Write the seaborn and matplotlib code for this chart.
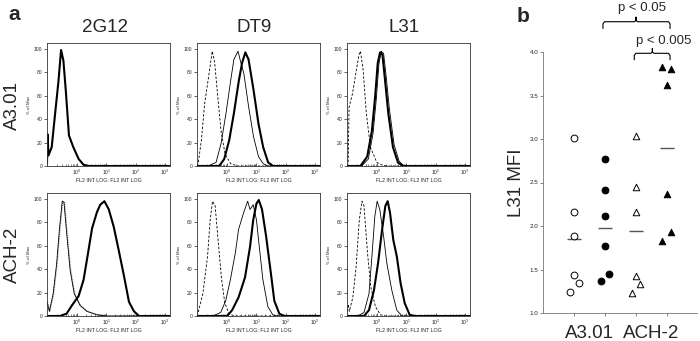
import numpy as np
import pandas as pd
import matplotlib
matplotlib.use("Agg")
import matplotlib.pyplot as plt
from matplotlib.ticker import LogLocator, FixedLocator, NullFormatter
import seaborn as sns

# ---------------- data: panel a (histograms; x = log10 intensity, y = % of max) -------------
g12_a301_thick_x = [-1.03, -1.01, -0.98, -0.87, -0.76, -0.64, -0.55, -0.47, -0.39, -0.28, -0.13, 0.05, 0.22, 0.40, 3.15]
g12_a301_thick_y = [2, 27, 9, 16, 43, 72, 99, 90, 65, 26, 16, 6, 1, 0, 0]

g12_ach2_thin_x = [-1.03, -0.95, -0.82, -0.70, -0.61, -0.51, -0.45, -0.36, -0.24, -0.10, 0.10, 0.33, 0.68, 1.02, 3.15]
g12_ach2_thin_y = [12, 4, 19, 45, 73, 98, 97, 71, 39, 19, 9, 4, 1, 0, 0]
g12_ach2_thick_x = [-1.03, -0.59, -0.36, -0.18, 0.05, 0.22, 0.36, 0.51, 0.68, 0.79, 0.93, 1.08, 1.25, 1.42, 1.60, 1.77, 1.94, 2.11, 3.15]
g12_ach2_thick_y = [0, 0, 2, 9, 17, 31, 52, 75, 89, 95, 98, 91, 76, 56, 34, 12, 4, 0, 0]

dt9_a301_iso_x = [-1.03, -0.99, -0.88, -0.77, -0.60, -0.51, -0.43, -0.32, -0.21, -0.07, 0.12, 0.35, 3.15]
dt9_a301_iso_y = [0, 2, 22, 53, 82, 98, 89, 59, 30, 10, 2, 0, 0]
dt9_a301_thin_x = [-1.03, -0.66, -0.38, -0.21, -0.04, 0.12, 0.23, 0.37, 0.46, 0.57, 0.73, 0.90, 1.07, 1.23, 1.40, 3.15]
dt9_a301_thin_y = [0, 0, 3, 19, 45, 73, 91, 98, 89, 79, 51, 25, 8, 2, 0, 0]
dt9_a301_thick_x = [-1.03, -0.27, -0.10, 0.07, 0.23, 0.40, 0.51, 0.62, 0.73, 0.90, 1.07, 1.23, 1.40, 1.57, 3.15]
dt9_a301_thick_y = [0, 0, 6, 22, 45, 73, 88, 97, 91, 65, 36, 16, 3, 0, 0]

l31_a301_iso_x = [-1.03, -0.99, -0.96, -0.84, -0.73, -0.62, -0.57, -0.48, -0.37, -0.23, -0.01, 0.20, 0.40, 3.15]
l31_a301_iso_y = [0, 2, 50, 62, 79, 95, 98, 82, 45, 16, 3, 0.5, 0, 0]
l31_a301_thin_x = [-1.03, -0.53, -0.30, -0.14, -0.03, 0.06, 0.14, 0.22, 0.31, 0.42, 0.58, 0.75, 0.92, 3.15]
l31_a301_thin_y = [0, 0, 6, 28, 57, 87, 98, 96, 76, 48, 18, 4, 0, 0]
l31_a301_thick_x = [-1.03, -0.57, -0.34, -0.18, -0.07, 0.02, 0.10, 0.18, 0.27, 0.38, 0.54, 0.71, 0.88, 3.15]
l31_a301_thick_y = [0, 0, 8, 30, 59, 88, 97, 95, 73, 45, 16, 3, 0, 0]

dt9_ach2_iso_x = [-1.03, -1.00, -0.83, -0.67, -0.58, -0.50, -0.41, -0.30, -0.19, -0.08, 0.06, 0.25, 3.15]
dt9_ach2_iso_y = [0, 2, 19, 51, 82, 98, 94, 62, 31, 11, 2, 0, 0]
dt9_ach2_thin_x = [-1.03, -0.50, -0.22, -0.05, 0.11, 0.28, 0.39, 0.56, 0.70, 0.78, 0.89, 1.00, 1.11, 1.22, 1.39, 1.56, 1.72, 3.15]
dt9_ach2_thin_y = [0, 0, 3, 13, 31, 54, 74, 88, 98, 91, 95, 82, 56, 31, 8, 1, 0, 0]
dt9_ach2_thick_x = [-1.03, 0.00, 0.17, 0.39, 0.61, 0.78, 0.89, 1.00, 1.08, 1.19, 1.33, 1.48, 1.61, 1.78, 1.95, 3.15]
dt9_ach2_thick_y = [0, 0, 5, 16, 33, 59, 82, 96, 99, 91, 68, 39, 13, 2, 0, 0]

l31_ach2_iso_x = [-1.03, -0.99, -0.95, -0.83, -0.72, -0.61, -0.52, -0.45, -0.33, -0.22, -0.06, 0.11, 0.30, 3.15]
l31_ach2_iso_y = [0, 10, 4, 16, 42, 82, 98, 94, 54, 25, 8, 1, 0, 0]
l31_ach2_thin_x = [-1.03, -0.67, -0.45, -0.28, -0.17, -0.08, 0.00, 0.09, 0.22, 0.33, 0.50, 0.67, 0.85, 3.15]
l31_ach2_thin_y = [0, 0, 3, 19, 54, 85, 98, 91, 68, 45, 22, 5, 0, 0]
l31_ach2_thick_x = [-1.03, -0.45, -0.28, -0.11, 0.03, 0.17, 0.28, 0.36, 0.44, 0.55, 0.67, 0.80, 0.94, 1.11, 1.30, 3.15]
l31_ach2_thick_y = [0, 0, 5, 22, 45, 74, 94, 98, 88, 65, 51, 28, 11, 1, 0, 0]

col_titles = ["2G12", "DT9", "L31"]
row_titles = ["A3.01", "ACH-2"]
x_tick_vals = [1, 10, 100, 1000]
y_tick_vals = [0, 20, 40, 60, 80, 100]
hist_xlabel = "FL2 INT LOG: FL2 INT LOG"
hist_ylabel = "% of Max"

# ---------------- data: panel b (L31 MFI) ----------------
mfi_a301_open = [3.01, 2.16, 1.88, 1.44, 1.34, 1.24]
mfi_a301_filled = [2.77, 2.41, 2.11, 1.77, 1.37, 1.45]
mfi_ach2_open = [3.03, 2.45, 2.16, 1.43, 1.33, 1.23]
mfi_ach2_filled = [3.83, 3.80, 3.62, 2.37, 1.93, 1.83]
group_labels = ["A3.01", "ACH-2"]
p_labels = ["p < 0.05", "p < 0.005"]
mfi_yticks = [1.0, 1.5, 2.0, 2.5, 3.0, 3.5, 4.0]

# ---------------- styling ----------------
sns.set_style("ticks")
plt.rcParams["font.family"] = ["Liberation Sans", "DejaVu Sans"]
plt.rcParams["mathtext.fontset"] = "custom"
plt.rcParams["mathtext.rm"] = "Liberation Sans"
plt.rcParams["mathtext.it"] = "Liberation Sans"

W, H = 700, 341
fig = plt.figure(figsize=(W / 100, H / 100), dpi=100)
fig.patch.set_facecolor("white")


def px_axes(l, t, r, b):
    return fig.add_axes([l / W, 1 - b / H, (r - l) / W, (b - t) / H])


styles = {
    "iso": dict(color="black", lw=0.6, linestyle=(0, (3, 2))),
    "thin": dict(color="black", lw=0.6, linestyle="-"),
    "dot": dict(color="#777777", lw=0.8, linestyle=(0, (1, 1))),
    "thick": dict(color="black", lw=1.5, linestyle="-"),
}

panels = {
    (0, 0): [("thick", g12_a301_thick_x, g12_a301_thick_y)],
    (0, 1): [("iso", dt9_a301_iso_x, dt9_a301_iso_y), ("thin", dt9_a301_thin_x, dt9_a301_thin_y),
             ("thick", dt9_a301_thick_x, dt9_a301_thick_y)],
    (0, 2): [("iso", l31_a301_iso_x, l31_a301_iso_y), ("thin", l31_a301_thin_x, l31_a301_thin_y),
             ("thick", l31_a301_thick_x, l31_a301_thick_y)],
    (1, 0): [("dot", g12_ach2_thin_x, g12_ach2_thin_y), ("thin", g12_ach2_thin_x, g12_ach2_thin_y),
             ("thick", g12_ach2_thick_x, g12_ach2_thick_y)],
    (1, 1): [("iso", dt9_ach2_iso_x, dt9_ach2_iso_y), ("thin", dt9_ach2_thin_x, dt9_ach2_thin_y),
             ("thick", dt9_ach2_thick_x, dt9_ach2_thick_y)],
    (1, 2): [("iso", l31_ach2_iso_x, l31_ach2_iso_y), ("thin", l31_ach2_thin_x, l31_ach2_thin_y),
             ("thick", l31_ach2_thick_x, l31_ach2_thick_y)],
}

col_lefts = [47, 197, 347]
row_tops = [43, 193]
AW, AH = 123, 123

for (r, c), curves in panels.items():
    l = col_lefts[c]
    t = row_tops[r]
    ax = px_axes(l, t, l + AW, t + AH)
    for style, xs, ys in curves:
        df = pd.DataFrame({"x": 10 ** np.array(xs, dtype=float), "y": ys})
        if style == "dot":
            df["x"] = df["x"] * 10 ** 0.02
        sns.lineplot(data=df, x="x", y="y", ax=ax, sort=False, estimator=None, **styles[style])
    ax.set_xscale("log")
    ax.set_xlim(10 ** -1.03, 10 ** 3.17)
    ax.set_ylim(0, 105)
    ax.xaxis.set_major_locator(FixedLocator(x_tick_vals))
    ax.xaxis.set_minor_locator(LogLocator(base=10, subs=np.arange(2, 10), numticks=20))
    ax.xaxis.set_minor_formatter(NullFormatter())
    ax.set_yticks(y_tick_vals)
    ax.tick_params(axis="x", which="major", direction="in", length=2.5, width=0.5, labelsize=3.6, pad=1.5)
    ax.tick_params(axis="x", which="minor", direction="in", length=1.5, width=0.4)
    ax.tick_params(axis="y", direction="out", length=2.5, width=0.5, labelsize=3.6, pad=1)
    ax.set_xlabel(hist_xlabel, fontsize=3.8, labelpad=0.5)
    ax.set_ylabel(hist_ylabel, fontsize=3.2, labelpad=2)
    for s in ax.spines.values():
        s.set_visible(True)
        s.set_linewidth(0.6)
        s.set_color("#333333")

# column titles and row titles
for c, title in enumerate(col_titles):
    fig.text((col_lefts[c] + AW / 2 - 4) / W, 1 - 28 / H, title, ha="center", va="center", fontsize=13.5)
for r, (title, yc) in enumerate(zip(row_titles, [106, 255])):
    fig.text(12.5 / W, 1 - yc / H, title, ha="center", va="center", rotation=90, fontsize=13.5)

fig.text(14 / W, 1 - 15 / H, "a", ha="center", va="center", fontsize=15, fontweight="bold")
fig.text(523 / W, 1 - 17 / H, "b", ha="center", va="center", fontsize=15, fontweight="bold")

# ---------------- panel b ----------------
axb = px_axes(543, 52, 697, 313)
groups = [
    (mfi_a301_open, "o", "white", [0, 0, 0, 0, 0.16, -0.14]),
    (mfi_a301_filled, "o", "black", [0, 0, 0, 0, -0.13, 0.13]),
    (mfi_ach2_open, "^", "white", [0, 0, 0, 0, 0.13, -0.13]),
    (mfi_ach2_filled, "^", "black", [-0.16, 0.13, 0, 0, 0.13, -0.16]),
]
for i, (vals, mk, face, offs) in enumerate(groups):
    xs = i + np.array(offs)
    sns.scatterplot(x=xs, y=vals, ax=axb, marker=mk, s=24 if mk == "o" else 22,
                    color=face, edgecolor="black", linewidth=0.7, zorder=3)
    m = np.mean(vals)
    axb.hlines(m, i - 0.24, i + 0.24, color="#555555", lw=1.0, zorder=2)

axb.set_xlim(-1.0, 3.97)
axb.set_ylim(1.0, 4.0)
axb.set_yticks(mfi_yticks)
axb.set_yticklabels([f"{v:.1f}" for v in mfi_yticks])
axb.set_xticks([0, 1, 2, 3])
axb.set_xticklabels([])
axb.tick_params(axis="both", direction="out", length=2.5, width=0.5, colors="#555555", labelsize=4.5, pad=1)
axb.tick_params(axis="y", labelcolor="#222222")
sns.despine(ax=axb)
for s in ["left", "bottom"]:
    axb.spines[s].set_linewidth(0.6)
    axb.spines[s].set_color("#777777")
axb.set_ylabel("L31 MFI", fontsize=13.5, labelpad=3)

for xc, lab in zip([0.5, 2.5], group_labels):
    fig.text((574 + 31 * xc) / W, 1 - 338 / H, lab, ha="center", va="baseline", fontsize=13.5)


def brace(ax, x0, x1, xm, yh, yend, ytop):
    d = 0.05
    r = 0.025
    xs = [x0, x0, x0 + d, xm - d, xm, xm, xm, xm + d, x1 - d, x1, x1]
    ys = [yend, yh - r, yh, yh, yh + r * 0.6, ytop, yh + r * 0.6, yh, yh, yh - r, yend]
    ax.plot(xs, ys, color="black", lw=0.8, clip_on=False, solid_joinstyle="round")


brace(axb, 0.935, 3.10, 2.0, 4.348, 4.27, 4.40)
brace(axb, 1.945, 3.10, 2.53, 3.985, 3.91, 4.04)
axb.text(2.2, 4.51, p_labels[0], ha="center", va="center", fontsize=9.5, clip_on=False)
axb.text(2.88, 4.13, p_labels[1], ha="center", va="center", fontsize=9.5, clip_on=False)

fig.savefig("out.png", dpi=100, facecolor="white")
